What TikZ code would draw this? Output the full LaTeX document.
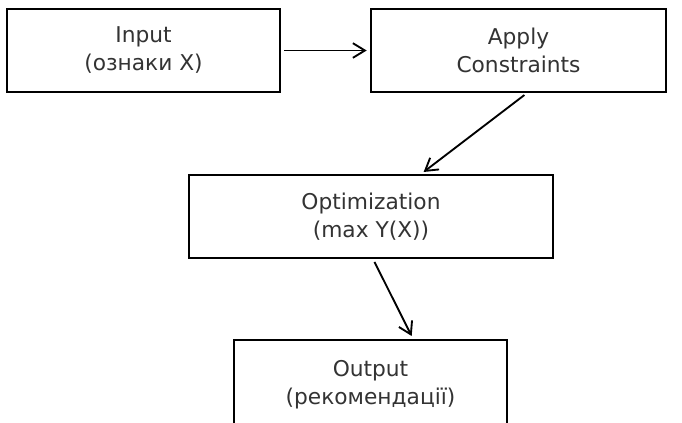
\documentclass[tikz,border=0pt]{standalone}
\usepackage{fontspec}
\setmainfont{DejaVu Sans}
\usetikzlibrary{arrows.meta}
\definecolor{Ink}{HTML}{333333}

\begin{document}
\begin{tikzpicture}[
    x=0.75pt, y=-0.75pt,
    box/.style={draw=black, line width=1.5pt, fill=white, minimum height=62.25pt,
      align=center, inner sep=0pt, text=Ink,
      font=\fontsize{16.3}{21}\selectfont},
    arrow/.style={-{Straight Barb[length=9pt, width=11pt]}, line width=1.4pt,
      draw=black, shorten <=2.5pt, shorten >=2.5pt}
  ]
    \clip (0,0) rectangle (682,422);
    \node[box, minimum width=204.75pt] (input) at (143.5,50.5) {Input\\(ознаки X)};
    \node[box, minimum width=221.25pt] (constraints) at (518.5,50.5) {Apply\\Constraints};
    \node[box, minimum width=273pt] (optim) at (371,216.5) {Optimization\\(max Y(X))};
    \node[box, minimum width=204.75pt, minimum height=67.5pt] (output) at (370.5,385) {Output\\(рекомендації)};
    \draw[arrow] (input) -- (constraints);
    \draw[arrow] ([xshift=6.4pt]constraints.south) -- ([xshift=37.5pt]optim.north);
    \draw[arrow] ([xshift=1.5pt]optim.south) -- ([xshift=32pt]output.north);
  \end{tikzpicture}
\end{document}
